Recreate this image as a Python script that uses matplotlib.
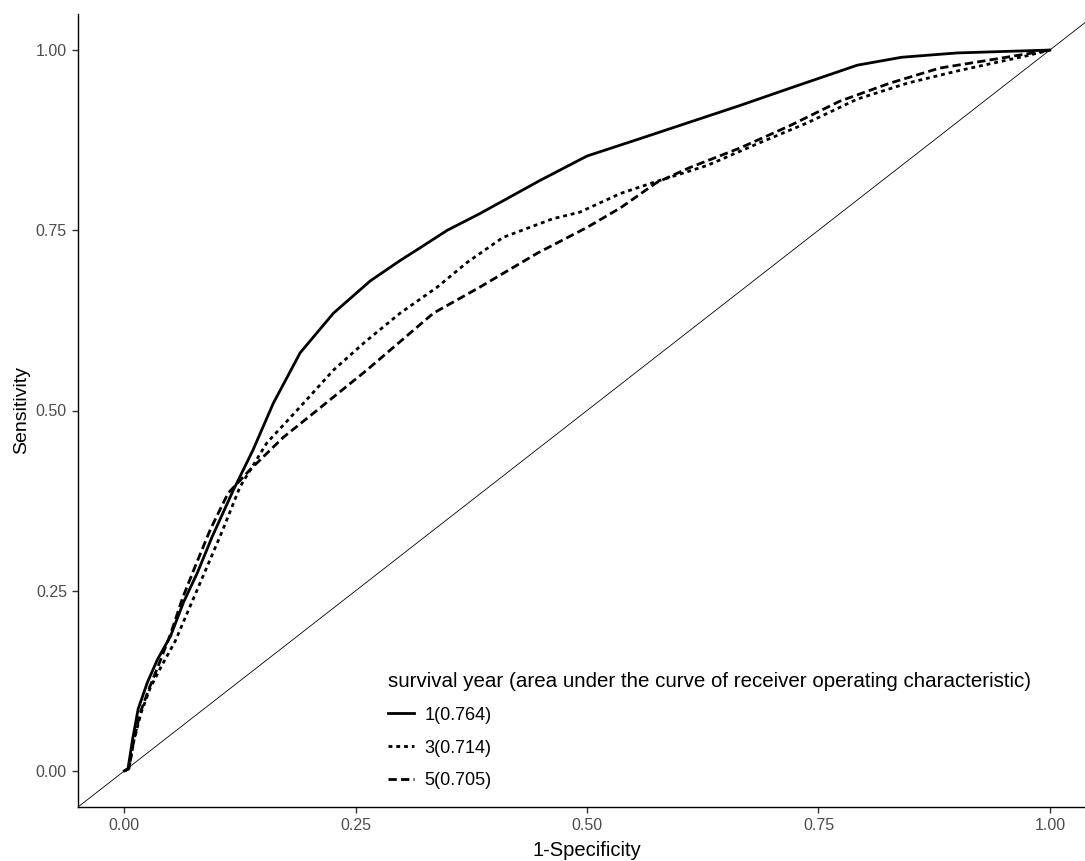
import matplotlib
matplotlib.use("Agg")
import matplotlib.pyplot as plt

plt.rcParams['font.family'] = ['Liberation Sans', 'DejaVu Sans']

# ROC curves (1 - specificity, sensitivity)
fpr_1yr = [0, 0.004, 0.009, 0.015, 0.025, 0.036, 0.05, 0.064, 0.079, 0.095, 0.118, 0.139,
           0.161, 0.19, 0.226, 0.266, 0.298, 0.32, 0.349, 0.384, 0.449, 0.5, 0.557, 0.611,
           0.665, 0.719, 0.792, 0.84, 0.9, 0.95, 1.0]
tpr_1yr = [0, 0.003, 0.044, 0.086, 0.123, 0.155, 0.187, 0.234, 0.275, 0.325, 0.39, 0.445,
           0.51, 0.58, 0.635, 0.68, 0.708, 0.726, 0.75, 0.773, 0.819, 0.853, 0.877, 0.90,
           0.923, 0.947, 0.979, 0.99, 0.996, 0.998, 1.0]

fpr_3yr = [0, 0.005, 0.01, 0.018, 0.028, 0.04, 0.055, 0.07, 0.085, 0.105, 0.125, 0.154,
           0.19, 0.226, 0.26, 0.298, 0.338, 0.37, 0.409, 0.463, 0.492, 0.536, 0.571, 0.63,
           0.684, 0.738, 0.792, 0.846, 0.9, 0.975, 1.0]
tpr_3yr = [0, 0.003, 0.04, 0.08, 0.115, 0.145, 0.18, 0.225, 0.27, 0.33, 0.394, 0.455,
           0.505, 0.556, 0.595, 0.635, 0.671, 0.705, 0.74, 0.766, 0.775, 0.801, 0.816, 0.84,
           0.87, 0.899, 0.932, 0.954, 0.971, 0.992, 1.0]

fpr_5yr = [0, 0.005, 0.01, 0.017, 0.027, 0.038, 0.05, 0.063, 0.077, 0.093, 0.112, 0.136,
           0.172, 0.208, 0.262, 0.334, 0.384, 0.446, 0.5, 0.536, 0.575, 0.611, 0.665, 0.719,
           0.773, 0.827, 0.881, 0.939, 1.0]
tpr_5yr = [0, 0.003, 0.04, 0.08, 0.115, 0.15, 0.19, 0.24, 0.285, 0.335, 0.385, 0.418,
           0.463, 0.50, 0.556, 0.635, 0.671, 0.718, 0.754, 0.781, 0.816, 0.837, 0.864, 0.895,
           0.929, 0.954, 0.975, 0.987, 1.0]

labels = ['1(0.764)', '3(0.714)', '5(0.705)']
legend_title = 'survival year (area under the curve of receiver operating characteristic)'
ticks = [0.00, 0.25, 0.50, 0.75, 1.00]
tick_labels = ['0.00', '0.25', '0.50', '0.75', '1.00']

fig = plt.figure(figsize=(10.85, 8.61), dpi=100)
ax = fig.add_axes([78 / 1085, 54 / 861, 1 - 78 / 1085, (807 - 14) / 861])

lw = 2.0
ax.plot(fpr_1yr, tpr_1yr, color='black', lw=lw, linestyle='-', label=labels[0])
ax.plot(fpr_3yr, tpr_3yr, color='black', lw=lw, linestyle=(0, (1.4, 1.4)), label=labels[1])
ax.plot(fpr_5yr, tpr_5yr, color='black', lw=lw, linestyle=(0, (3.0, 1.5)), label=labels[2])

# reference diagonal across the whole panel
ax.axline((0, 0), (1, 1), color='black', lw=0.6)

ax.set_xlim(-0.05, 1.038)
ax.set_ylim(-0.05, 1.05)
ax.set_xticks(ticks)
ax.set_xticklabels(tick_labels)
ax.set_yticks(ticks)
ax.set_yticklabels(tick_labels)

for s in ['top', 'right']:
    ax.spines[s].set_visible(False)
for s in ['left', 'bottom']:
    ax.spines[s].set_linewidth(1.0)
    ax.spines[s].set_color('black')

ax.tick_params(axis='both', length=4, width=1.0, color='#333333',
               labelcolor='#4D4D4D', labelsize=11.5)
ax.tick_params(axis='x', pad=4)
ax.tick_params(axis='y', pad=4)

ax.set_xlabel('1-Specificity', fontsize=14.5)
ax.set_ylabel('Sensitivity', fontsize=14)
ax.xaxis.set_label_coords((0.5 + 0.05) / 1.088, -0.043)
ax.xaxis.label.set_va('top')

leg = ax.legend(title=legend_title, loc='lower left', bbox_to_anchor=(0.301, 0.013),
                borderaxespad=0, frameon=False, fontsize=13, title_fontsize=14.8,
                handlelength=1.44, handletextpad=0.55, labelspacing=0.88,
                alignment='left')

fig.savefig('out.png', dpi=100, facecolor='white')
